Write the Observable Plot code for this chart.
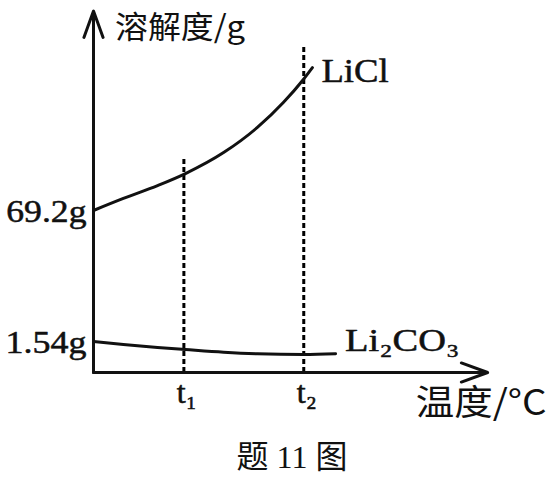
<!DOCTYPE html>
<html>
<head>
<meta charset="utf-8">
<script src="https://cdn.jsdelivr.net/npm/d3@7"></script>
<script src="https://cdn.jsdelivr.net/npm/@observablehq/plot@0.6"></script>
<style>
  html, body { margin: 0; padding: 0; background: #fff; }
  #chart { width: 546px; }
  #cap { width: 546px; height: 54px; box-sizing: border-box; padding-left: 38px; text-align: center;
         font-family: "Liberation Serif", "Noto Sans CJK SC", serif; font-size: 32px; line-height: 54px; color: #111; }
</style>
</head>
<body>
<div id="chart"></div>
<div id="cap">题 11 图</div>
<script>
// Temperature positions (schematic units) and key temperatures
const t1 = 23;
const t2 = 53.5;
const xTickValues = [t1, t2];
const xTickLabels = ["t₁", "t₂"];

// Solubility tick values / labels
const yTickValues = [69.2, 1.54];
const yTickLabels = ["69.2g", "1.54g"];

// LiCl solubility curve
const liclTemp = [0, 7.6, 16.3, 23.4, 33.1, 41.7, 48.3, 53.2, 55.7];
const liclSol  = [69.2, 73.5, 78.1, 82.4, 89.9, 98.9, 107.8, 115.7, 120.3];

// Li2CO3 solubility curve
const li2co3Temp = [0, 7.6, 16.3, 23.4, 33.1, 41.7, 53.5, 61.6];
const li2co3Sol  = [1.54, 1.39, 1.24, 1.14, 1.01, 0.93, 0.89, 0.93];

// Top of dashed guide lines
const guideTop = [88.2, 127.8];

const licl = liclTemp.map((t, i) => ({t, s: liclSol[i]}));
const li2co3 = li2co3Temp.map((t, i) => ({t, s: li2co3Sol[i]}));
const guides = xTickValues.map((t, i) => ({t, top: guideTop[i]}));
const yTicks = yTickValues.map((v, i) => ({v, label: yTickLabels[i]}));
const xTicks = xTickValues.map((v, i) => ({v, label: xTickLabels[i]}));
const axes = [
  {x1: 0, y1: 0, x2: 0, y2: 140.5},
  {x1: 0, y1: 0, x2: 100.3, y2: 0}
];

const serif = "'Liberation Serif', 'DejaVu Serif', serif";
const cjk = "'Noto Sans CJK SC', sans-serif";
const ink = "#111";

const plot = Plot.plot({
  width: 546,
  height: 430,
  margin: 0,
  x: {type: "linear", domain: [0, 100], range: [93, 486], axis: null},
  y: {type: "linear", domain: [0, 1.54, 69.2, 140], range: [372, 341, 210, 12], axis: null},
  style: {background: "#fff", color: ink, fontFamily: serif},
  marks: [
    Plot.ruleX(guides, {x: "t", y1: 0, y2: "top", stroke: "#000", strokeWidth: 3, strokeDasharray: "5,3"}),
    Plot.arrow(axes, {x1: "x1", y1: "y1", x2: "x2", y2: "y2", bend: 0, headLength: 14, headAngle: 40, stroke: ink, strokeWidth: 3}),
    Plot.line(licl, {x: "t", y: "s", curve: "monotone-x", stroke: ink, strokeWidth: 3}),
    Plot.line(li2co3, {x: "t", y: "s", curve: "monotone-x", stroke: ink, strokeWidth: 3}),
    Plot.text(yTicks, {x: 0, y: "v", text: "label", textAnchor: "end", dx: -7, dy: 2, fontSize: 31, fontFamily: serif, fill: ink, stroke: ink, strokeWidth: 0.5}),
    Plot.text(xTicks, {x: "v", y: 0, text: "label", dy: 20, dx: 3, fontSize: 32, fontFamily: serif, fill: ink, stroke: ink, strokeWidth: 0.6}),
    Plot.text(["LiCl"], {x: 58, y: 119, text: d => d, textAnchor: "start", fontSize: 34, fontFamily: serif, fill: ink, stroke: ink, strokeWidth: 0.5}),
    Plot.text(["Li₂CO₃"], {x: 64, y: 1.54, text: d => d, textAnchor: "start", fontSize: 31, fontFamily: serif, fill: ink, stroke: ink, strokeWidth: 0.5}),
    Plot.text(["溶解度/g"], {x: 5.5, y: 134.5, text: d => d, textAnchor: "start", fontSize: 31, fontFamily: cjk, fill: ink}),
    Plot.text(["温度/°C"], {x: 82, y: 0, text: d => d, textAnchor: "start", dy: 31, fontSize: 35, fontFamily: cjk, fill: ink})
  ]
});
document.getElementById("chart").appendChild(plot);

// Widen the printed lettering horizontally, as in the scanned figure
const stretch = {"69.2g": 1.15, "1.54g": 1.16, "LiCl": 1.08, "Li₂CO₃": 1.24, "溶解度/g": 1.06, "温度/°C": 1.1};
d3.select(plot).selectAll("text").each(function() {
  const k = stretch[this.textContent];
  if (k) {
    const len = this.getComputedTextLength();
    this.setAttribute("textLength", len * k);
    this.setAttribute("lengthAdjust", "spacingAndGlyphs");
  }
});
</script>
</body>
</html>
